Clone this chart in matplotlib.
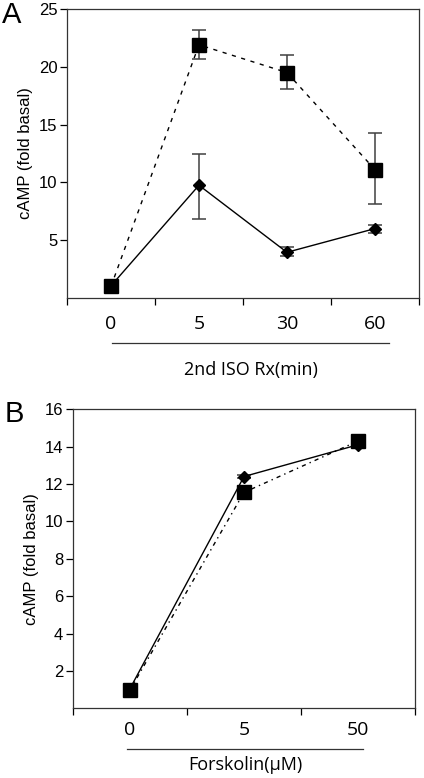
import matplotlib
matplotlib.use("Agg")
from matplotlib import pyplot as plt
from matplotlib.lines import Line2D

# ---- panel A data ----
isoLabels = ["0", "5", "30", "60"]
isoSquare = [1.0, 21.9, 19.5, 11.1]
isoSquareLo = [0.1, 1.2, 1.4, 3.0]
isoSquareHi = [0.1, 1.3, 1.5, 3.2]
isoDiamond = [1.05, 9.75, 3.95, 6.0]
isoDiamondLo = [0.1, 2.9, 0.35, 0.35]
isoDiamondHi = [0.1, 2.7, 0.45, 0.35]

# ---- panel B data ----
fskLabels = ["0", "5", "50"]
fskSquare = [0.98, 11.55, 14.3]
fskSquareErr = [0.25, 0.15, 0.15]
fskDiamond = [1.05, 12.4, 14.1]
fskDiamondErr = [0.2, 0.1, 0.15]

tickFont = "Liberation Sans"
labFont = "Open Sans"
errColor = "#404040"

fig = plt.figure(figsize=(4.24, 7.78), dpi=100)
axA = fig.add_axes([0.158, 0.617, 0.830, 0.3715])
axB = fig.add_axes([0.172, 0.0896, 0.807, 0.3844])


def drawPanel(ax, labels, sq, sqErr, dm, dmErr, ymax, ystep, sqStyle, xlab,
              lineX, lineY, labY, tickPad, letterX, letterY, letter):
    xs = [i + 0.5 for i in range(len(labels))]
    ax.errorbar(xs, sq, yerr=sqErr, fmt="none", ecolor=errColor, elinewidth=1.1,
                capsize=5, capthick=1.1, zorder=2)
    ax.errorbar(xs, dm, yerr=dmErr, fmt="none", ecolor=errColor, elinewidth=1.1,
                capsize=5, capthick=1.1, zorder=2)
    ax.plot(xs, sq, color="black", linestyle=sqStyle, linewidth=1.0,
            marker="s", markersize=9.5, zorder=3)
    ax.plot(xs, dm, color="black", linestyle="-", linewidth=1.0,
            marker="D", markersize=6.5, zorder=4)
    ax.set_xlim(0, len(labels))
    ax.set_ylim(0, ymax)
    ax.set_xticks(range(len(labels) + 1))
    ax.set_xticklabels([])
    ax.set_xticks(xs, minor=True)
    ax.set_xticklabels(labels, minor=True, fontsize=14, family=labFont)
    ax.tick_params(axis="x", which="minor", length=0, pad=tickPad)
    ax.tick_params(axis="x", which="major", length=5, direction="out", width=0.9)
    yt = list(range(ystep, ymax + 1, ystep))
    ax.set_yticks(yt)
    ax.set_yticklabels([str(v) for v in yt], fontsize=12, family=tickFont)
    ax.tick_params(axis="y", length=5, direction="out", width=0.9, pad=2)
    for s in ax.spines.values():
        s.set_linewidth(0.9)
        s.set_color("#333333")
    ax.set_ylabel("cAMP (fold basal)", fontsize=12, family=tickFont, labelpad=4)
    ax.text(sum(lineX) / 2, labY, xlab, transform=ax.transAxes, fontsize=13,
            family=labFont, ha="center", va="center")
    ax.add_line(Line2D(lineX, [lineY, lineY], transform=ax.transAxes, color="#333333",
                       linewidth=0.9, clip_on=False))
    ax.text(letterX, letterY, letter, transform=ax.transAxes, fontsize=21,
            family=tickFont, ha="left", va="center")


drawPanel(axA, isoLabels, isoSquare, [isoSquareLo, isoSquareHi], isoDiamond,
          [isoDiamondLo, isoDiamondHi], 25, 5, (0, (3, 4)), "2nd ISO Rx(min)",
          [0.128, 0.915], -0.157, -0.250, 12, -0.184, 0.98, "A")
drawPanel(axB, fskLabels, fskSquare, fskSquareErr, fskDiamond, fskDiamondErr,
          16, 2, (0, (3, 3, 1, 3)), "Forskolin(\u00b5M)",
          [0.158, 0.848], -0.136, -0.190, 9, -0.2, 0.984, "B")

fig.savefig("out.png", dpi=100)
